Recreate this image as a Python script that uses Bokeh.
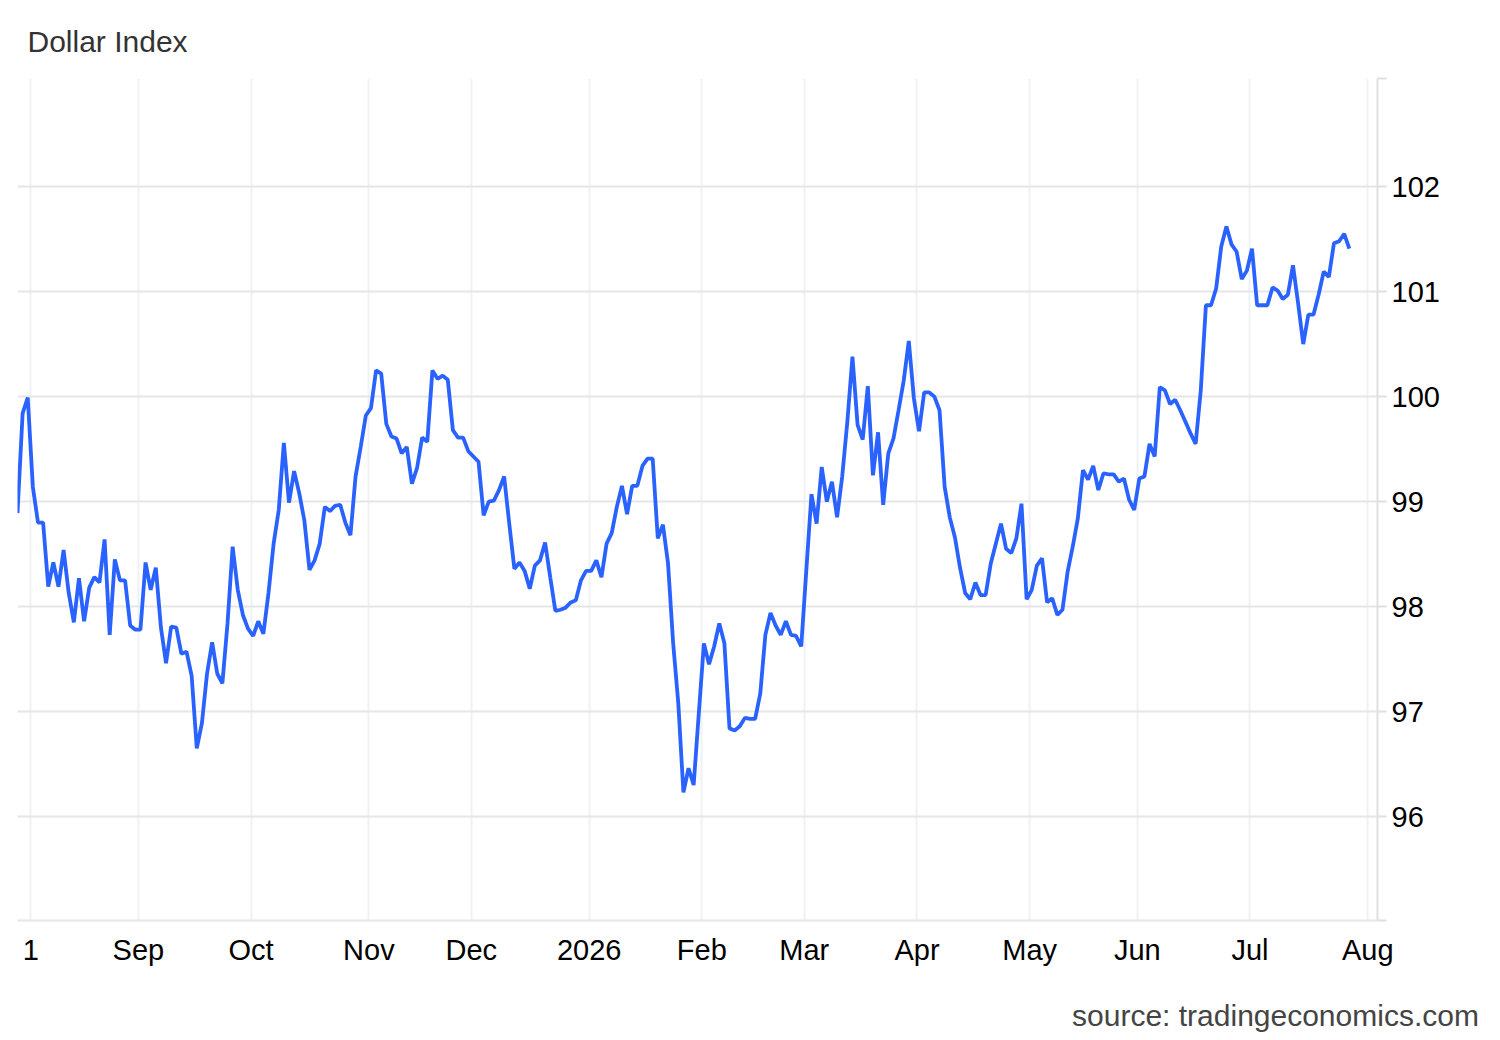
import numpy as np
import pandas as pd
from bokeh.plotting import figure
from bokeh.models import FixedTicker, Range1d, LinearAxis, ColumnDataSource
from bokeh.embed import file_html
from bokeh.resources import INLINE

# ---- data (daily closes, one per weekday) ----
start_date = "2025-07-29"
values = [
    98.89, 99.84, 99.99, 99.14, 98.80, 98.80, 98.19, 98.42, 98.19, 98.54,
    98.13, 97.85, 98.27, 97.86, 98.18, 98.28, 98.23, 98.64, 97.73, 98.45,
    98.25, 98.25, 97.82, 97.78, 97.78, 98.42, 98.16, 98.37, 97.80, 97.46,
    97.81, 97.80, 97.55, 97.57, 97.34, 96.65, 96.89, 97.36, 97.66, 97.36,
    97.27, 97.84, 98.57, 98.16, 97.92, 97.79, 97.72, 97.86, 97.74, 98.13,
    98.60, 98.92, 99.56, 98.99, 99.29, 99.08, 98.82, 98.35, 98.44, 98.60,
    98.95, 98.91, 98.96, 98.97, 98.80, 98.68, 99.24, 99.52, 99.82, 99.89,
    100.25, 100.22, 99.74, 99.62, 99.60, 99.46, 99.52, 99.17, 99.32, 99.61,
    99.57, 100.25, 100.17, 100.20, 100.16, 99.68, 99.61, 99.61, 99.48, 99.43,
    99.38, 98.87, 99.00, 99.01, 99.11, 99.24, 98.79, 98.36, 98.42, 98.34,
    98.17, 98.39, 98.44, 98.61, 98.28, 97.96, 97.97, 97.99, 98.04, 98.06,
    98.25, 98.34, 98.34, 98.44, 98.28, 98.60, 98.70, 98.95, 99.15, 98.88,
    99.15, 99.15, 99.34, 99.41, 99.41, 98.65, 98.78, 98.41, 97.65, 97.08,
    96.23, 96.46, 96.30, 96.98, 97.65, 97.45, 97.62, 97.84, 97.65, 96.84,
    96.82, 96.86, 96.94, 96.93, 96.93, 97.17, 97.73, 97.94, 97.82, 97.73,
    97.86, 97.73, 97.72, 97.62, 98.35, 99.07, 98.79, 99.33, 99.00, 99.19,
    98.85, 99.24, 99.76, 100.38, 99.73, 99.59, 100.10, 99.25, 99.66, 98.97,
    99.46, 99.60, 99.87, 100.15, 100.53, 99.98, 99.67, 100.04, 100.04, 100.00,
    99.87, 99.14, 98.85, 98.66, 98.37, 98.13, 98.07, 98.23, 98.11, 98.11,
    98.41, 98.60, 98.79, 98.55, 98.51, 98.65, 98.98, 98.07, 98.16, 98.39,
    98.46, 98.04, 98.08, 97.92, 97.97, 98.33, 98.57, 98.84, 99.30, 99.21,
    99.34, 99.11, 99.27, 99.26, 99.26, 99.19, 99.22, 99.02, 98.92, 99.22,
    99.24, 99.55, 99.43, 100.09, 100.06, 99.93, 99.97, 99.87, 99.76, 99.65,
    99.55, 100.06, 100.87, 100.87, 101.03, 101.43, 101.62, 101.45, 101.38, 101.12,
    101.20, 101.41, 100.87, 100.87, 100.87, 101.04, 101.01, 100.93, 100.97, 101.25,
    100.89, 100.50, 100.78, 100.78, 100.97, 101.19, 101.14, 101.46, 101.48, 101.55,
    101.41,
]
month_starts = ["2025-08-01", "2025-09-01", "2025-10-01", "2025-11-01", "2025-12-01",
                "2026-01-01", "2026-02-01", "2026-03-01", "2026-04-01", "2026-05-01",
                "2026-06-01", "2026-07-01", "2026-08-01"]
month_labels = ["1", "Sep", "Oct", "Nov", "Dec", "2026", "Feb", "Mar", "Apr", "May",
                "Jun", "Jul", "Aug"]
y_ticks = [96, 97, 98, 99, 100, 101, 102]
title_text = "Dollar Index"
source_text = "source: tradingeconomics.com"

# ---- trading-day axis (weekends compressed) ----
dates = pd.bdate_range(start_date, periods=len(values))
d0 = np.datetime64(start_date)
x = np.busday_count(d0, dates.values.astype("datetime64[D]")).astype(float)
tick_x = [float(np.busday_count(d0, np.datetime64(m))) - 0.4 for m in month_starts]

src = ColumnDataSource(data=dict(x=x, y=values, date=dates))

# ---- layout ----
W, H = 1492, 1034
B_LEFT, B_RIGHT, B_TOP, B_BOTTOM = 17, 115, 78, 114
X0, X1 = 0.0, 265.5
Y_LO, Y_HI = 95.01, 103.03
FONT = "Liberation Sans"
frame_w = W - B_LEFT - B_RIGHT
px_x = frame_w / (X1 - X0)          # pixels per x unit

p = figure(width=W, height=H, output_backend="svg", toolbar_location=None,
           x_range=Range1d(X0, X1), y_range=Range1d(Y_LO, Y_HI),
           y_axis_location="right",
           min_border_left=B_LEFT, min_border_right=B_RIGHT,
           min_border_top=B_TOP, min_border_bottom=B_BOTTOM)
p.outline_line_color = None
p.background_fill_color = "white"
p.border_fill_color = "white"

# title
p.title.text = title_text
p.title.text_font = FONT
p.title.text_font_size = "30px"
p.title.text_font_style = "normal"
p.title.text_color = "#333333"
p.title.align = "left"
p.title.offset = 10
p.title.standoff = 41

# x axis
xa = p.xaxis[0]
xa.ticker = FixedTicker(ticks=tick_x)
xa.major_label_overrides = {t: lab for t, lab in zip(tick_x, month_labels)}
xa.major_label_text_font = FONT
xa.major_label_text_font_size = "29px"
xa.major_label_text_color = "#000000"
xa.major_label_standoff = 13
xa.major_tick_out = 0
xa.major_tick_in = 0
xa.minor_tick_out = 0
xa.minor_tick_in = 0
xa.axis_line_color = "#e6e6e6"
xa.axis_line_width = 2

# source note: a bare second axis below, whose single label is right-aligned
# near the right edge of the page (label half-width ~203px)
src_tick = X1 + (101 - 203) / px_x
sa = LinearAxis(ticker=FixedTicker(ticks=[src_tick]),
                major_label_overrides={src_tick: source_text})
sa.major_label_text_font = FONT
sa.major_label_text_font_size = "30px"
sa.major_label_text_color = "#444444"
sa.major_label_standoff = 30
sa.axis_line_color = None
sa.major_tick_line_color = None
sa.minor_tick_line_color = None
sa.major_tick_out = 0
sa.major_tick_in = 0
sa.minor_tick_out = 0
sa.minor_tick_in = 0
p.add_layout(sa, "below")

# y axis
ya = p.yaxis[0]
y_all = [Y_LO] + [float(v) for v in y_ticks] + [Y_HI]
ya.ticker = FixedTicker(ticks=y_all)
ov = {float(v): str(v) for v in y_ticks}
ov[Y_LO] = ""
ov[Y_HI] = ""
ya.major_label_overrides = ov
ya.major_label_text_font = FONT
ya.major_label_text_font_size = "29px"
ya.major_label_text_color = "#000000"
ya.major_label_standoff = 5
ya.major_tick_out = 9
ya.major_tick_in = 0
ya.major_tick_line_color = "#e0e0e0"
ya.major_tick_line_width = 2
ya.minor_tick_out = 0
ya.minor_tick_in = 0
ya.axis_line_color = "#e0e0e0"
ya.axis_line_width = 2

# grids
p.ygrid.grid_line_color = "#e6e6e6"
p.ygrid.grid_line_width = 2
p.xgrid.grid_line_color = "#eef1f6"
p.xgrid.grid_line_width = 2

p.line("x", "y", source=src, line_color="#2962ff", line_width=3.8)

open("out.html", "w").write(file_html(p, INLINE))
